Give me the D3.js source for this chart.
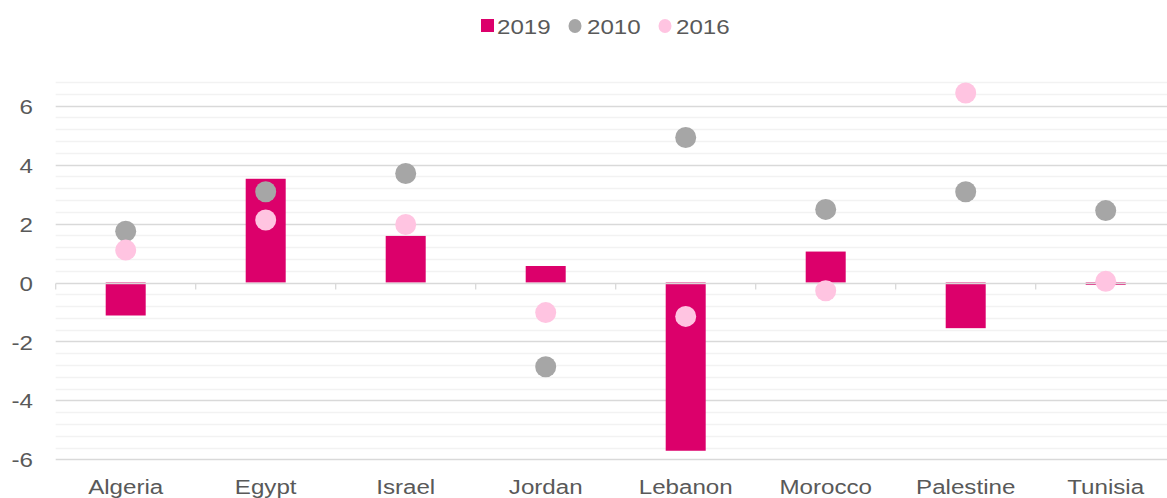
<!DOCTYPE html>
<html><head><meta charset="utf-8">
<script src="https://cdn.jsdelivr.net/npm/d3@7"></script>
<style>body{margin:0;background:#fff}svg{display:block}text{font-family:"Liberation Sans",Arial,sans-serif;fill:#595959}</style>
</head><body><svg id="c" width="1167" height="498"></svg>
<script>
const categories = ["Algeria","Egypt","Israel","Jordan","Lebanon","Morocco","Palestine","Tunisia"];
const values2019 = [-1.12, 3.52, 1.58, 0.56, -5.71, 1.05, -1.55, -0.08];
const values2010 = [1.74, 3.08, 3.7, -2.86, 4.92, 2.48, 3.08, 2.44];
const values2016 = [1.1, 2.12, 1.97, -1.02, -1.15, -0.28, 6.43, 0.04];
const yTicks = [-6, -4, -2, 0, 2, 4, 6];
const seriesNames = ["2019", "2010", "2016"];

const colors = {s2019:"#DC006B", s2010:"#A6A6A6", s2016:"#FFC4E1"};
const FS = "21px", SX = 1.15;
const svg = d3.select("#c");
const left = 55.7, band = 140;
const x = d3.scaleBand().domain(categories).range([left, left + band*categories.length]).paddingInner(0).paddingOuter(0);
const y = d3.scaleLinear().domain([-6, 6]).range([459.3, 105.7]);

// minor gridlines
const minor = d3.range(-6, 6.81, 0.4).map(v => +v.toFixed(1)).filter(v => Math.abs(v % 2) > 0.01 && Math.abs(Math.abs(v % 2) - 2) > 0.01);
svg.append("g").selectAll("line").data(minor).join("line")
  .attr("x1", left).attr("x2", 1167).attr("y1", d => Math.round(y(d))+0.5).attr("y2", d => Math.round(y(d))+0.5)
  .attr("stroke", "#F2F2F2").attr("stroke-width", 1.3);
// major gridlines
svg.append("g").selectAll("line").data(yTicks.filter(d => d !== 0)).join("line")
  .attr("x1", left).attr("x2", 1167).attr("y1", d => Math.round(y(d))+0.5).attr("y2", d => Math.round(y(d))+0.5)
  .attr("stroke", "#D9D9D9").attr("stroke-width", 1.3);

// y axis labels
const yAxis = d3.axisLeft(y).tickValues(yTicks).tickSize(0).tickPadding(0).tickFormat(d => String(d));
const ya = svg.append("g").attr("transform", "translate(33,0)").call(yAxis);
ya.select(".domain").remove();
ya.selectAll("text").style("font-size", FS).attr("fill", "#595959").attr("dy", "0.36em").attr("transform", `scale(${SX},1)`);

// bars
const bw = 40;
svg.append("g").selectAll("rect").data(categories).join("rect")
  .attr("x", d => x(d) + band/2 - bw/2).attr("width", bw)
  .attr("y", (d,i) => Math.min(y(0), y(values2019[i])))
  .attr("height", (d,i) => Math.max(1.5, Math.abs(y(values2019[i]) - y(0))))
  .attr("fill", colors.s2019);

// zero axis
const za = svg.append("g").attr("transform", `translate(0,${Math.round(y(0))+0.5})`);
za.append("line").attr("x1", left).attr("x2", 1167).attr("y1", 0).attr("y2", 0).attr("stroke", "#D9D9D9").attr("stroke-width", 1.5);
za.selectAll("line.tk").data(d3.range(categories.length+1)).join("line").attr("class","tk")
  .attr("x1", i => left + i*band).attr("x2", i => left + i*band).attr("y1", 0).attr("y2", 6)
  .attr("stroke", "#D9D9D9").attr("stroke-width", 1.3);

// dots
const r = 10.5;
svg.append("g").selectAll("circle").data(categories).join("circle")
  .attr("cx", d => x(d) + band/2).attr("cy", (d,i) => y(values2010[i])).attr("r", r).attr("fill", colors.s2010);
svg.append("g").selectAll("circle").data(categories).join("circle")
  .attr("cx", d => x(d) + band/2).attr("cy", (d,i) => y(values2016[i])).attr("r", r).attr("fill", colors.s2016);

// category labels
const xb = svg.append("g").attr("transform", "translate(0,494)").call(d3.axisBottom(x).tickSize(0).tickPadding(0));
xb.select(".domain").remove();
xb.selectAll("text").style("font-size", FS).attr("fill", "#595959").attr("dy", "0em").attr("transform", `scale(${SX},1)`);

// legend
const lg = svg.append("g");
lg.append("rect").attr("x", 481).attr("y", 19).attr("width", 13).attr("height", 13).attr("fill", colors.s2019);
lg.append("ellipse").attr("cx", 575).attr("cy", 26).attr("rx", 6.5).attr("ry", 7).attr("fill", colors.s2010);
lg.append("ellipse").attr("cx", 665).attr("cy", 26).attr("rx", 6.5).attr("ry", 7).attr("fill", colors.s2016);
[[497, 0], [587, 1], [676, 2]].forEach(([lx, i]) => {
  lg.append("g").attr("transform", `translate(${lx},33.5)`).append("text")
    .attr("transform", `scale(${SX},1)`).style("font-size", FS).text(seriesNames[i]);
});
</script></body></html>
